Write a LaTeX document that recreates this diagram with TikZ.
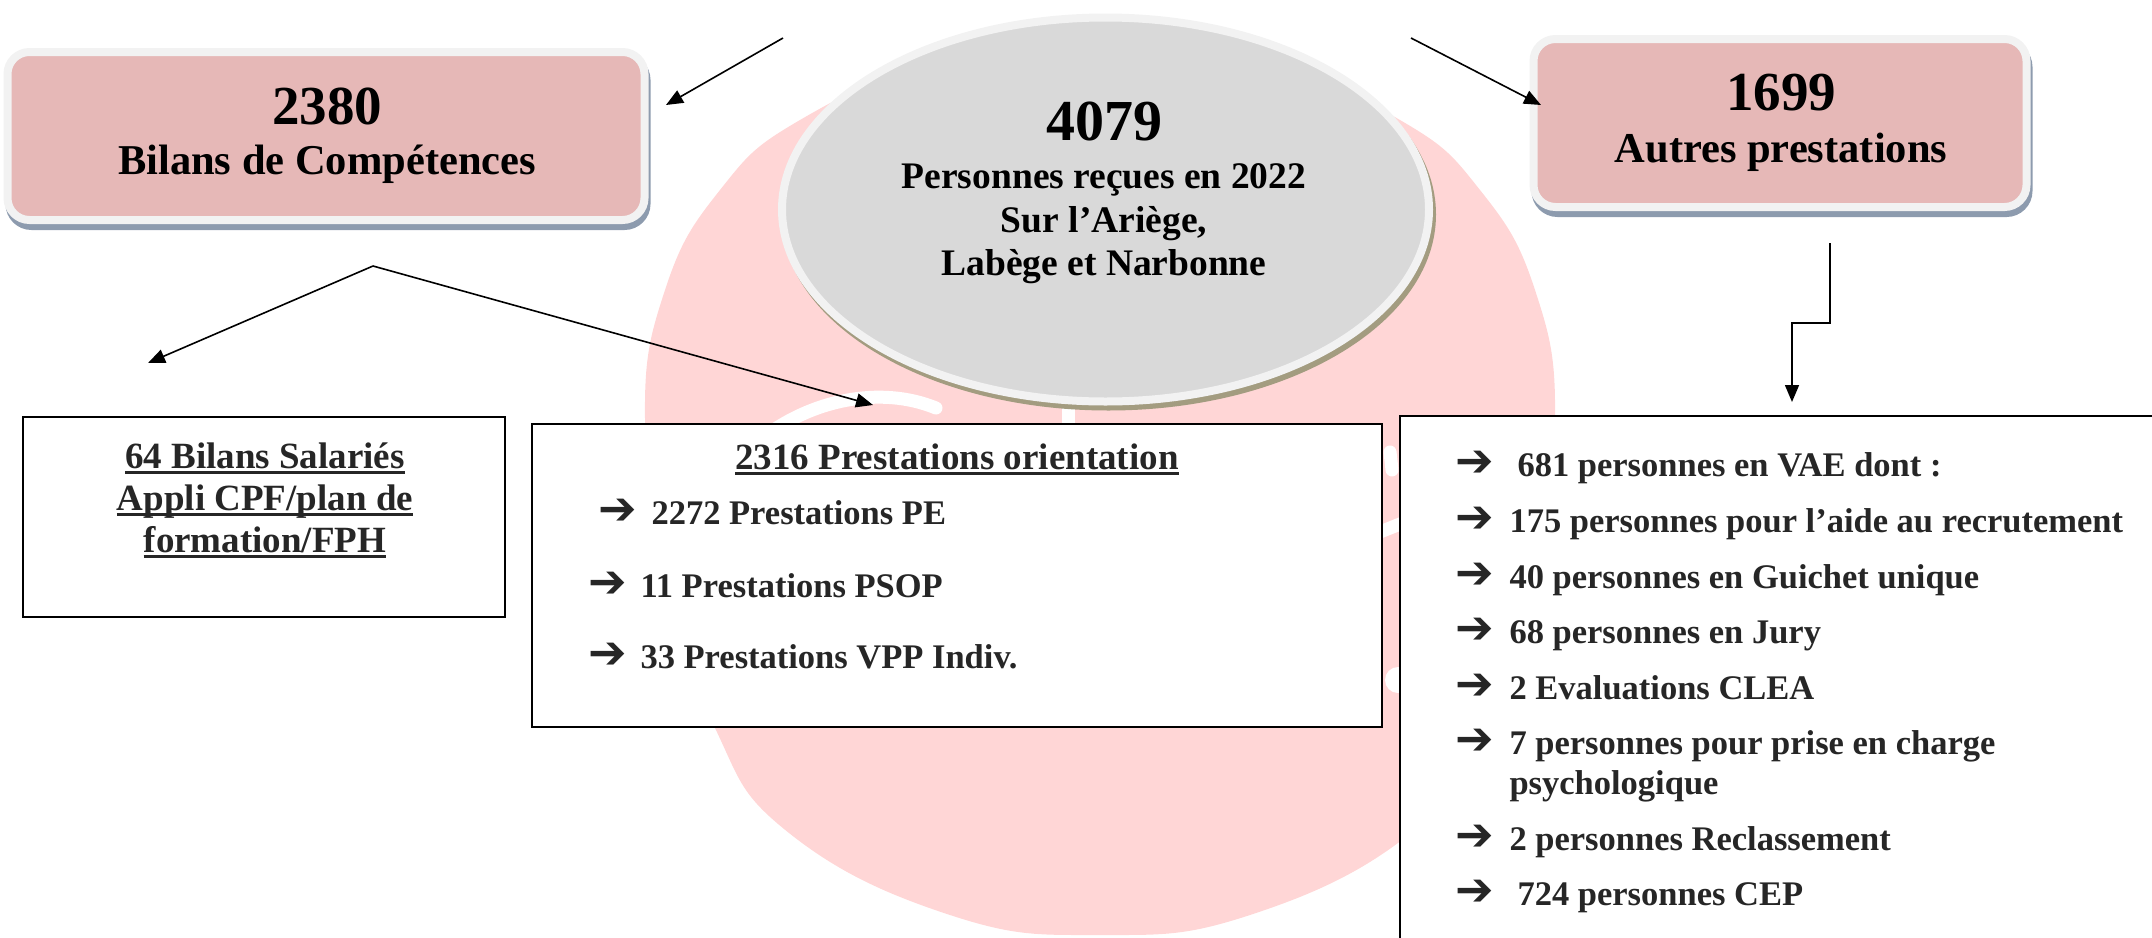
\documentclass[tikz,border=0pt]{standalone}
\usepackage{fontspec}
\setmainfont{Liberation Serif}
\newfontfamily\arrfont{DejaVu Sans}
\usetikzlibrary{arrows.meta,shapes.geometric}
\definecolor{blob}{HTML}{FFD6D6}
\definecolor{pinkfill}{HTML}{E6B8B7}
\definecolor{ring}{HTML}{F2F2F2}
\definecolor{ovalfill}{HTML}{D9D9D9}
\definecolor{boxshadow}{HTML}{8D9BAE}
\definecolor{ovalshadow}{HTML}{A39C80}
\definecolor{listtext}{HTML}{262626}
\newcommand{\myul}[1]{\leavevmode\setbox0=\hbox{#1}\rlap{\rule[-0.16em]{\wd0}{0.08em}}\box0}
\tikzset{
  pinkbox/.style={rectangle, rounded corners=22pt, fill=pinkfill, draw=ring, line width=8pt, inner sep=0pt,
    preaction={draw=boxshadow, fill=boxshadow, line width=8pt, transform canvas={xshift=2pt,yshift=-6pt}}},
  oval/.style={ellipse, fill=ovalfill, draw=ring, line width=8pt, inner sep=0pt,
    preaction={draw=ovalshadow, fill=ovalshadow, line width=8pt, transform canvas={xshift=3pt,yshift=-5pt}}},
  plainbox/.style={rectangle, draw=black, fill=white, line width=1.6pt, inner sep=0pt},
  bignum/.style={anchor=base, font=\bfseries\fontsize{55}{60}\selectfont},
  boxtitle/.style={anchor=base, font=\bfseries\fontsize{42.5}{48}\selectfont},
  ovaltext/.style={anchor=base, font=\bfseries\fontsize{37.5}{42}\selectfont},
  ultext/.style={anchor=base, text=listtext, font=\bfseries\fontsize{37}{42}\selectfont},
  item/.style={anchor=base west, text=listtext, font=\bfseries\fontsize{34.5}{40}\selectfont},
  bullet/.style={anchor=base west, text=listtext, inner xsep=0pt, font=\arrfont\bfseries\fontsize{46}{46}\selectfont},
  conn/.style={line width=1.6pt, -{Triangle[length=17pt,width=14pt]}},
  wmark/.style={white, line width=13pt, line cap=round}
}
\begin{document}
\begin{tikzpicture}[x=1pt,y=-1pt]
\useasboundingbox (0,0) rectangle (2152,937);
\clip (0,0) rectangle (2152,937);
% background watermark
\fill[blob] plot[smooth cycle, tension=0.75] coordinates {
  (1100,935) (950,915) (789,833) (715,728) (668,580) (645,419) (665,290) (720,190) (800,120) (940,62) (1100,45)
  (1260,62) (1400,120) (1480,190) (1535,290) (1555,419) (1532,580) (1485,728) (1411,833) (1250,915)};
\draw[wmark] (760,440) .. controls (810,400) and (880,385) .. (936,408);
\draw[wmark] (1068,400) -- (1068,440);
\draw[wmark] (1390,452) -- (1392,470);
\draw[wmark] (1380,532) -- (1405,522);
\fill[white] (1398,680) circle (13pt);

% top boxes
\node[pinkbox, minimum width=637pt, minimum height=168pt] (bilans) at (326,136) {};
\node[bignum] (n2380) at (327,124) {2380};
\node[boxtitle] (tbilans) at (327,174) {Bilans de Compétences};

\node[pinkbox, minimum width=493pt, minimum height=168pt] (autres) at (1780,123) {};
\node[bignum] (n1699) at (1781,110) {1699};
\node[boxtitle] (tautres) at (1781,162) {Autres prestations};

\node[oval, minimum width=647pt, minimum height=384pt] (total) at (1105.5,209.5) {};
\node[bignum, font=\bfseries\fontsize{58}{60}\selectfont] (n4079) at (1104,140) {4079};
\node[ovaltext] (o1) at (1104,188) {Personnes reçues en 2022};
\node[ovaltext] (o2) at (1104,232) {Sur l’Ariège,};
\node[ovaltext] (o3) at (1104,275) {Labège et Narbonne};

% lower boxes
\node[plainbox, minimum width=482pt, minimum height=200pt] (salaries) at (264,517) {};
\node[ultext] (s1) at (265,468) {\myul{64 Bilans Salariés}};
\node[ultext] (s2) at (265,510) {\myul{Appli CPF/plan de}};
\node[ultext] (s3) at (265,552) {\myul{formation/FPH}};

\node[plainbox, minimum width=850pt, minimum height=303pt] (orient) at (957,575.5) {};
\node[ultext, font=\bfseries\fontsize{37}{42}\selectfont] (otitle) at (957,469) {\myul{2316 Prestations orientation}};
\node[bullet] (ob1) at (598,524) {➔};
\node[item] (oi1) at (648,524) {2272 Prestations PE};
\node[bullet] (ob2) at (588,597) {➔};
\node[item] (oi2) at (637,597) {11 Prestations PSOP};
\node[bullet] (ob3) at (588,668) {➔};
\node[item] (oi3) at (637,668) {33 Prestations VPP Indiv.};

\node[plainbox, minimum width=780pt, minimum height=560pt] (others) at (1790,696) {};
\node[bullet] (rb1) at (1455,476) {➔};
\node[item] (ri1) at (1514,476) {681 personnes en VAE dont :};
\node[bullet] (rb2) at (1455,532) {➔};
\node[item] (ri2) at (1506,532) {175 personnes pour l’aide au recrutement};
\node[bullet] (rb3) at (1455,588) {➔};
\node[item] (ri3) at (1506,588) {40 personnes en Guichet unique};
\node[bullet] (rb4) at (1455,643) {➔};
\node[item] (ri4) at (1506,643) {68 personnes en Jury};
\node[bullet] (rb5) at (1455,699) {➔};
\node[item] (ri5) at (1506,699) {2 Evaluations CLEA};
\node[bullet] (rb6) at (1455,754) {➔};
\node[item] (ri6) at (1506,754) {7 personnes pour prise en charge};
\node[item] (ri6b) at (1506,794) {psychologique};
\node[bullet] (rb7) at (1455,850) {➔};
\node[item] (ri7) at (1506,850) {2 personnes Reclassement};
\node[bullet] (rb8) at (1455,905) {➔};
\node[item] (ri8) at (1514,905) {724 personnes CEP};

% connectors
\coordinate (c1s) at (783,38);
\coordinate (c1e) at (666,105);
\coordinate (c2s) at (1411,38);
\coordinate (c2e) at (1541,105);
\coordinate (apex) at (373,266);
\coordinate (c3e) at (148,363);
\coordinate (c4e) at (873,405);
\coordinate (c5s) at (1830,243);
\coordinate (c5e) at (1792,402);
\draw[conn] (c1s) -- (c1e);
\draw[conn] (c2s) -- (c2e);
\draw[conn] (apex) -- (c3e);
\draw[conn] (apex) -- (c4e);
\draw[conn] (c5s) -- (1830,323) -- (1792,323) -- (c5e);
\end{tikzpicture}
\end{document}
